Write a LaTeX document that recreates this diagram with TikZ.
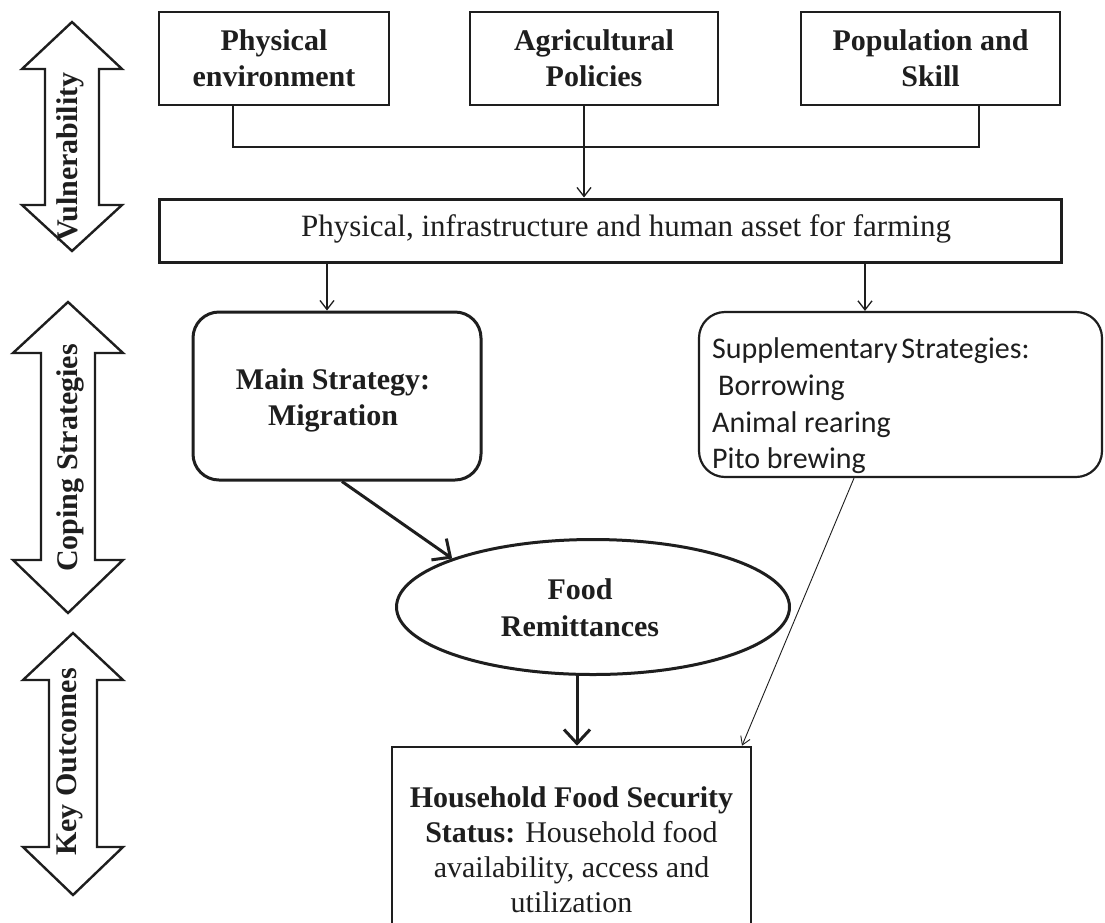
\documentclass[tikz,border=0pt]{standalone}
\usepackage{fontspec}
\setmainfont{Liberation Serif}
\newfontfamily\calib{Carlito}
\usetikzlibrary{arrows.meta,shapes.geometric}
\definecolor{ink}{HTML}{1E1E1E}
\begin{document}
\begin{tikzpicture}[x=1pt,y=-1pt,
  font=\fontsize{30}{36}\selectfont,
  ln/.style={line width=1.3pt, draw=ink},
  thinarrow/.style={ln, -{Straight Barb[length=9pt,width=14pt,line width=1.3pt]}},
  slimarrow/.style={line width=0.9pt, draw=ink, -{Straight Barb[length=8pt,width=10pt,line width=0.9pt]}},
  bigarrow/.style={line width=3pt, draw=ink, -{Straight Barb[length=14pt,width=26pt,line width=3pt]}},
  box/.style={draw=ink, line width=2.6pt, inner sep=0pt, align=center, text=ink, fill=white},
  rbox/.style={box, rounded corners=26pt},
  oval/.style={draw=ink, line width=3pt, ellipse, inner sep=0pt, fill=white},
  dblarrow/.style={draw=ink, line width=2.4pt, line join=miter, fill=white},
  sidelabel/.style={rotate=90, font=\fontsize{30}{36}\selectfont\bfseries, text=ink, inner sep=0pt},
  lbl/.style={text=ink, inner sep=0pt, align=center}
]
\useasboundingbox (0,0) rectangle (1105,922);
\fill[white] (0,0) rectangle (1105,922);
\clip (0,0) rectangle (1105,922);

% ---------- side double arrows ----------
\draw[dblarrow] (72,22) -- (122,69) -- (99,69) -- (99,205) -- (122,205) -- (72,251)
  -- (22,205) -- (45,205) -- (45,69) -- (22,69) -- cycle;
\node[sidelabel] (vul) at (70,157) {Vulnerability};

\draw[dblarrow] (68,302) -- (123,353) -- (95,353) -- (95,560) -- (123,560) -- (68,613)
  -- (13,560) -- (41,560) -- (41,353) -- (13,353) -- cycle;
\node[sidelabel] (cop) at (70,458) {Coping Strategies};

\draw[dblarrow] (73,633) -- (123,680) -- (97,680) -- (97,847) -- (123,847) -- (73,895)
  -- (23,847) -- (49,847) -- (49,680) -- (23,680) -- cycle;
\node[sidelabel] (key) at (70,762) {Key Outcomes};

% ---------- top boxes ----------
\node[box, minimum width=230pt, minimum height=93pt, font=\fontsize{30}{36}\selectfont\bfseries]
  (phys) at (274,58.5) {Physical\\environment};
\node[box, minimum width=248pt, minimum height=93pt, font=\fontsize{30}{36}\selectfont\bfseries]
  (agri) at (594,58.5) {Agricultural\\Policies};
\node[box, minimum width=259pt, minimum height=93pt, font=\fontsize{30}{36}\selectfont\bfseries]
  (pop) at (930.5,58.5) {Population and\\Skill};

\node[box, line width=3pt, minimum width=902pt, minimum height=63pt] (big) at (610,230.5) {};
\node[lbl, font=\fontsize{31}{36}\selectfont] (bigtext) at (626,229)
  {Physical, infrastructure and human asset for farming};

% ---------- bus ----------
\coordinate (b1) at (233,147);
\coordinate (b2) at (979,147);
\coordinate (ax) at (584,147);
\draw[ln] (phys.south -| b1) -- (b1) -- (b2) -- (pop.south -| b2);
\draw[thinarrow] (agri.south -| ax) -- (big.north -| ax);

% ---------- strategies ----------
\node[rbox, line width=3pt, minimum width=288pt, minimum height=168pt] (main) at (337,396) {};
\node[lbl, font=\fontsize{30}{36}\selectfont\bfseries] (maintext) at (333,400)
  {Main Strategy:\\Migration};
\node[rbox, line width=2.2pt, minimum width=403pt, minimum height=165pt] (supp) at (900.5,394.5) {};
\node[lbl, anchor=west, align=left, font=\calib\fontsize{30}{36.7}\selectfont]
  (supptext) at (712,406) {Supplementary\hspace{-3pt} Strategies:\\\hspace{6pt}Borrowing\\Animal rearing\\Pito brewing};

\coordinate (mx) at (327,0);
\coordinate (sx) at (865,0);
\draw[thinarrow] (big.south -| mx) -- (main.north -| mx);
\draw[thinarrow] (big.south -| sx) -- (supp.north -| sx);

% ---------- outcomes ----------
\node[oval, minimum width=393pt, minimum height=135pt] (ell) at (593,607) {};
\node[lbl, font=\fontsize{30}{37}\selectfont\bfseries] (elltext) at (580,608) {Food\\Remittances};

\node[box, minimum width=359pt, minimum height=205pt] (house) at (571.5,849.5)
  {\textbf{Household Food Security}\\[-1pt]\textbf{Status:} Household food\\[-1pt]availability, access and\\[-1pt]utilization};

\coordinate (m1) at (342,0);
\coordinate (hx) at (577,0);
\coordinate (px) at (854,0);
\coordinate (qx) at (742,0);
\draw[bigarrow] (main.south -| m1) -- (ell.161);
\draw[bigarrow] (ell.south -| hx) -- (house.north -| hx);
\draw[slimarrow] (supp.south -| px) -- (house.north -| qx);
\end{tikzpicture}
\end{document}
